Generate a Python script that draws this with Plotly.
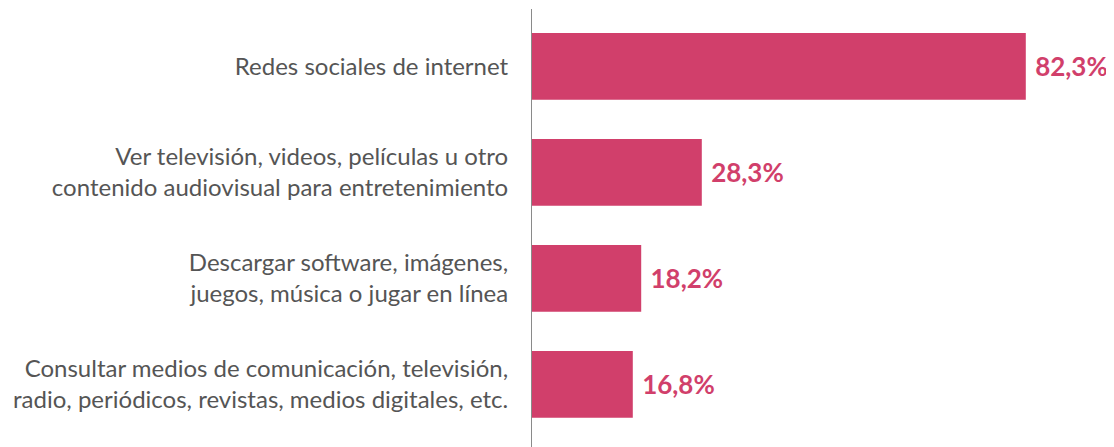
import plotly.graph_objects as go

categories = [
    "Redes sociales de internet",
    "Ver televisión, videos, películas u otro<br>contenido audiovisual para entretenimiento",
    "Descargar software, imágenes,<br>juegos, música o jugar en línea",
    "Consultar medios de comunicación, televisión,<br>radio, periódicos, revistas, medios digitales, etc.",
]
values = [82.3, 28.3, 18.2, 16.8]
labels = [f"{v:.1f}".replace(".", ",") + "%" for v in values]

BAR = "#D13F6B"

fig = go.Figure(
    go.Bar(
        y=categories,
        x=values,
        orientation="h",
        marker=dict(color=BAR, line=dict(width=0)),
        width=0.63,
        text=[" " + t for t in labels],
        textposition="outside",
        textfont=dict(family="Lato", size=26, color=BAR, weight="bold"),
        cliponaxis=False,
    )
)

# page body has an 8px default margin; compensate in figure size/margins
fig.update_layout(
    width=1106,
    height=439,
    margin=dict(l=524, r=0, t=1, b=0),
    plot_bgcolor="white",
    paper_bgcolor="white",
    showlegend=False,
    font=dict(family="Lato"),
    xaxis=dict(range=[0, 97], visible=False, fixedrange=True),
    yaxis=dict(
        range=[3.59, -0.542],
        showline=True,
        linecolor="#8a8a8a",
        linewidth=1,
        showgrid=False,
        zeroline=False,
        ticks="",
        ticklabelstandoff=18,
        tickfont=dict(family="Lato", size=24, color="#555555"),
        automargin=False,
    ),
)

fig.write_html("out.html")
